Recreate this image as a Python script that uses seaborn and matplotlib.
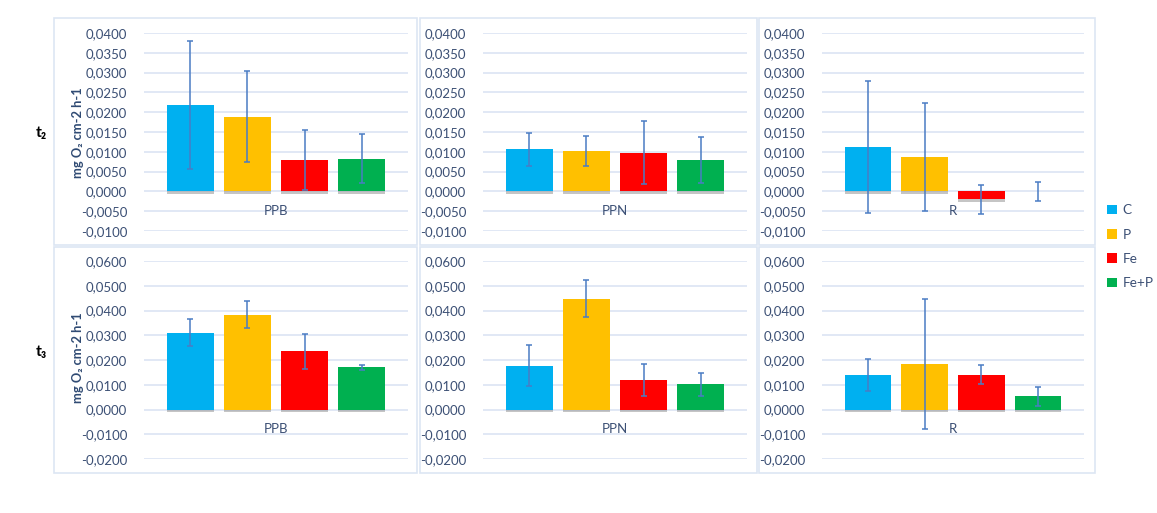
import matplotlib
matplotlib.use("Agg")
import matplotlib.pyplot as plt
import matplotlib.patheffects as pe
from matplotlib.patches import Rectangle, Patch
import numpy as np
import pandas as pd
import seaborn as sns

sns.set_theme(style="white")
plt.rcParams["font.family"] = ["Lato", "DejaVu Sans"]

# Treatments and sites
treatments = ["C", "P", "Fe", "Fe+P"]
sites = ["PPB", "PPN", "R"]
colors = ["#00B0F0", "#FFC000", "#FF0000", "#00B050"]

# t2: mean rates and errors (mg O2 cm-2 h-1), one list per site
t2_ppb = [0.0218, 0.0189, 0.0080, 0.0082]
t2_ppb_err = [0.0162, 0.0116, 0.0076, 0.0062]
t2_ppn = [0.0106, 0.0102, 0.0098, 0.0079]
t2_ppn_err = [0.0042, 0.0038, 0.0079, 0.0058]
t2_r = [0.0112, 0.0087, -0.0020, 0.0000]
t2_r_err = [0.0167, 0.0136, 0.0036, 0.0023]

# t3
t3_ppb = [0.0311, 0.0383, 0.0236, 0.0170]
t3_ppb_err = [0.0053, 0.0055, 0.0071, 0.0010]
t3_ppn = [0.0177, 0.0447, 0.0119, 0.0102]
t3_ppn_err = [0.0083, 0.0075, 0.0063, 0.0046]
t3_r = [0.0138, 0.0185, 0.0141, 0.0054]
t3_r_err = [0.0065, 0.0262, 0.0038, 0.0038]

t2_ticks = [-0.0100, -0.0050, 0.0000, 0.0050, 0.0100, 0.0150,
            0.0200, 0.0250, 0.0300, 0.0350, 0.0400]
t3_ticks = [-0.0200, -0.0100, 0.0000, 0.0100, 0.0200, 0.0300,
            0.0400, 0.0500, 0.0600]

rows = [
    ("t\u2082", t2_ticks, [(t2_ppb, t2_ppb_err), (t2_ppn, t2_ppn_err), (t2_r, t2_r_err)]),
    ("t\u2083", t3_ticks, [(t3_ppb, t3_ppb_err), (t3_ppn, t3_ppn_err), (t3_r, t3_r_err)]),
]

W, H = 1157, 513
fig = plt.figure(figsize=(W / 100, H / 100), dpi=100)

tick_color = "#3C5075"
grid_color = "#D9E2F3"
frame_color = "#DDE6F3"
err_color = "#4A7CC4"

# pixel boxes: plot areas (left, top, right, bottom) and surrounding frames
plot_x = [(144, 408), (483, 747), (822, 1084)]
plot_y = [(33, 231), (261, 459)]
frame_x = [(54, 417), (420, 757), (759, 1095)]
frame_y = [(18, 245), (247, 473)]
row_center = [133, 358]


def fx(px):
    return px / W


def fy(py):
    return 1 - py / H


for r, (row_label, ticks, panels) in enumerate(rows):
    y0, y1 = plot_y[r]
    fy0, fy1 = frame_y[r]
    for c, (vals, errs) in enumerate(panels):
        fx0, fx1 = frame_x[c]
        fig.add_artist(Rectangle((fx(fx0), fy(fy1)), fx(fx1) - fx(fx0), fy(fy0) - fy(fy1),
                                 transform=fig.transFigure, fill=False,
                                 edgecolor=frame_color, linewidth=1.2, zorder=0))
        x0, x1 = plot_x[c]
        ax = fig.add_axes([fx(x0), fy(y1), fx(x1) - fx(x0), fy(y0) - fy(y1)])
        ax.set_facecolor("none")
        df = pd.DataFrame({"site": [sites[c]] * 4, "treatment": treatments, "value": vals})
        sns.barplot(data=df, x="site", y="value", hue="treatment", hue_order=treatments,
                    palette=colors, width=0.864, gap=0.176, errorbar=None,
                    legend=False, ax=ax, saturation=1, zorder=3)
        for p in ax.patches:
            p.set_edgecolor("none")
            p.set_path_effects([pe.SimplePatchShadow(offset=(0, -1.8), shadow_rgbFace="#808080",
                                                     alpha=0.45), pe.Normal()])
        centers = [p.get_x() + p.get_width() / 2 for p in ax.patches]
        ax.errorbar(centers, vals, yerr=errs, fmt="none", ecolor=err_color,
                    elinewidth=1.1, capsize=2.2, capthick=1.1, zorder=4)
        ax.set_xlim(-0.5, 0.5)
        ax.set_ylim(ticks[0], ticks[-1])
        ax.set_yticks(ticks)
        ax.set_yticklabels([f"{t:.4f}".replace(".", ",") for t in ticks],
                           fontsize=9.5, color=tick_color)
        ax.tick_params(axis="y", length=0, pad=12)
        ax.set_xticks([])
        ax.set_xlabel("")
        ax.set_ylabel("")
        ax.yaxis.grid(True, color=grid_color, linewidth=1.1, zorder=0)
        ax.set_axisbelow(True)
        for s in ax.spines.values():
            s.set_visible(False)
        ax.annotate(sites[c], xy=(0, 0), xycoords="data", xytext=(0, -14),
                    textcoords="offset points", ha="center", va="center",
                    fontsize=9.5, color=tick_color, zorder=2)
    fig.text(fx(78), fy(row_center[r]), "mg O\u2082 cm-2 h-1", rotation=90,
             ha="center", va="center", fontsize=9.3, fontweight="bold", color="#2F4A73")
    fig.text(fx(41), fy([133, 352][r]), row_label, ha="center", va="center",
             fontsize=11.5, fontweight="bold", color="black")

handles = [Patch(facecolor=col, edgecolor="none", label=t) for t, col in zip(treatments, colors)]
leg = fig.legend(handles=handles, loc="upper left", bbox_to_anchor=(fx(1102), fy(199)),
                 frameon=False, fontsize=9.8, handlelength=0.7, handleheight=0.7,
                 handletextpad=0.4, labelspacing=0.9, borderaxespad=0)
for t in leg.get_texts():
    t.set_color(tick_color)

fig.savefig("out.png", dpi=100)
